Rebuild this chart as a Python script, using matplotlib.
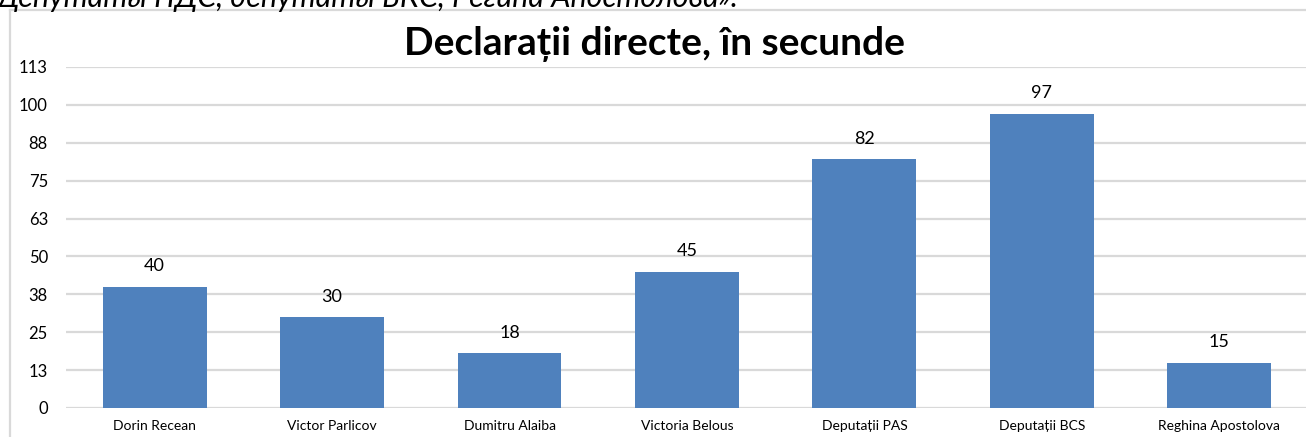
import matplotlib.pyplot as plt
from matplotlib.ticker import FuncFormatter
from matplotlib.lines import Line2D

# data
categories = ["Dorin Recean", "Victor Parlicov", "Dumitru Alaiba", "Victoria Belous",
              "Deputații PAS", "Deputații BCS", "Reghina Apostolova"]
seconds = [40, 30, 18, 45, 82, 97, 15]
y_ticks = [0, 12.5, 25, 37.5, 50, 62.5, 75, 87.5, 100, 112.5]

title = "Declarații directe, în secunde"
caption = "Депутаты ПДС, депутаты БКС, Регина Апостолова»."

plt.rcParams["font.family"] = ["Lato", "DejaVu Sans"]

fig = plt.figure(figsize=(13.06, 4.37), dpi=100)
ax = fig.add_axes([0.0505, 0.0664, 0.951, 0.7803])

x = range(len(categories))
ax.bar(x, seconds, width=0.585, color="#4F81BD", zorder=3)

for xi, v in zip(x, seconds):
    ax.annotate(str(v), (xi, v), xytext=(0, 9), textcoords="offset points",
                ha="center", va="bottom", fontsize=13, color="#000000")

ax.set_xlim(-0.5, len(categories) - 0.5)
ax.set_ylim(0, 112.5)
ax.set_yticks(y_ticks)
ax.yaxis.set_major_formatter(FuncFormatter(lambda v, p: str(int(v + 0.5))))
ax.set_xticks(list(x))
ax.set_xticklabels(categories, fontsize=10)
ax.tick_params(axis="y", length=0, pad=13, labelsize=12)
ax.tick_params(axis="x", length=0, pad=9)

ax.grid(axis="y", color="#D9D9D9", linewidth=1.6, zorder=0)
for s in ax.spines.values():
    s.set_visible(False)

fig.text(0.5015, 0.90, title, ha="center", va="center",
         fontsize=28, fontweight="bold")
# caption above the chart, cut by the top edge as in the source
fig.text(-0.003, 0.984, caption, ha="left", va="baseline",
         fontsize=22, style="italic")

# chart frame
fig.add_artist(Line2D([0.0077, 0.0077], [0, 0.977], color="#D9D9D9", linewidth=1.6))
fig.add_artist(Line2D([0.0077, 1.0], [0.977, 0.977], color="#D9D9D9", linewidth=1.6))

fig.savefig("out.png", dpi=100)
